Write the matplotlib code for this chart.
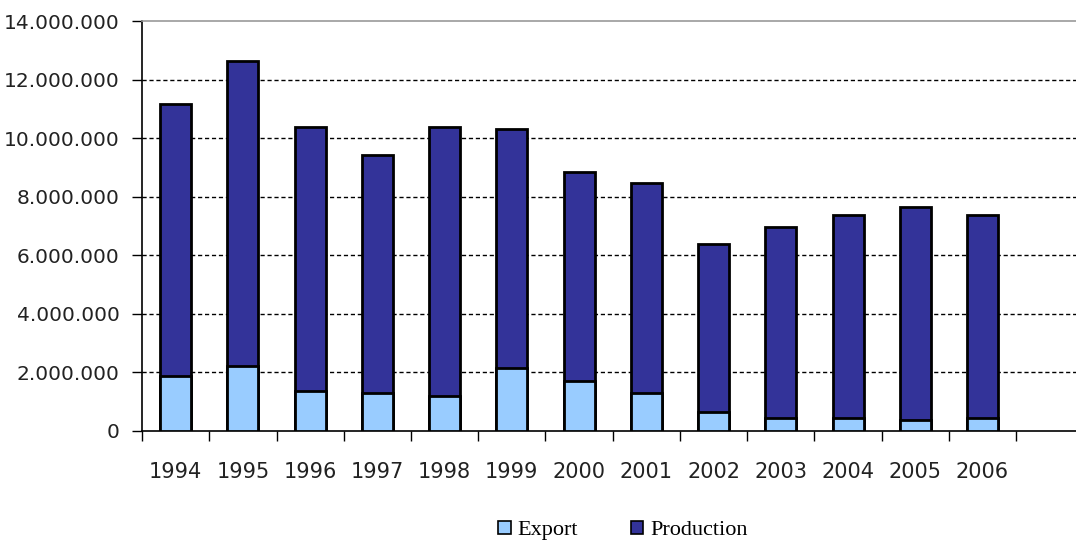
import matplotlib
matplotlib.use("Agg")
import matplotlib.pyplot as plt
from matplotlib.ticker import FuncFormatter, FixedLocator
from matplotlib.patches import Patch
import numpy as np

years = ["1994", "1995", "1996", "1997", "1998", "1999", "2000",
         "2001", "2002", "2003", "2004", "2005", "2006"]
production = [11150000, 12640000, 10390000, 9410000, 10390000, 10300000, 8830000,
              8480000, 6370000, 6970000, 7390000, 7650000, 7380000]
export = [1870000, 2210000, 1370000, 1300000, 1210000, 2140000, 1710000,
          1300000, 640000, 440000, 440000, 380000, 440000]

prod_color = "#333399"
exp_color = "#99CCFF"

fig = plt.figure(figsize=(10.76, 5.43), dpi=100)
ax = fig.add_axes([0.132, 0.2063, 0.868, 0.755])

x = np.arange(len(years))
w = 0.46
ax.bar(x, production, width=w, color=prod_color, edgecolor="black", linewidth=2.0, zorder=3)
ax.bar(x, export, width=w, color=exp_color, edgecolor="black", linewidth=2.0, zorder=4)

ax.set_xlim(-0.5, 13.39)
ax.set_ylim(0, 14000000)

ax.set_yticks(np.arange(0, 14000001, 2000000))
ax.yaxis.set_major_formatter(FuncFormatter(lambda v, p: f"{int(v):,}".replace(",", ".")))
for gy in range(2000000, 14000000, 2000000):
    ax.axhline(gy, color="black", linestyle=(0, (3, 2)), linewidth=1.0, zorder=1)

ax.set_xticks(x)
ax.set_xticklabels(years)
ax.xaxis.set_minor_locator(FixedLocator(np.arange(-0.5, 14, 1)))
ax.tick_params(axis="x", which="major", length=0, pad=22, labelsize=15)
ax.tick_params(axis="x", which="minor", length=7, width=1, color="black", direction="out")
ax.tick_params(axis="y", length=7, width=1, color="black", direction="out", pad=9, labelsize=14.5)

for lbl in ax.get_xticklabels() + ax.get_yticklabels():
    lbl.set_fontfamily("DejaVu Sans")
    lbl.set_color("#222222")

ax.spines["right"].set_visible(False)
ax.spines["top"].set_color("#999999")
ax.spines["top"].set_linewidth(1.2)
ax.spines["left"].set_color("black")
ax.spines["bottom"].set_color("black")
ax.spines["left"].set_linewidth(1.2)
ax.spines["bottom"].set_linewidth(1.2)

handles = [Patch(facecolor=exp_color, edgecolor="black", linewidth=1.2, label="Export"),
           Patch(facecolor=prod_color, edgecolor="black", linewidth=1.2, label="Production")]
fig.legend(handles=handles, loc="center", bbox_to_anchor=(0.579, 0.023), ncol=2,
           frameon=False, prop={"family": "Liberation Serif", "size": 16},
           handlelength=0.55, handleheight=0.55, handletextpad=0.3, columnspacing=2.4,
           borderaxespad=0)

fig.savefig("out.png", dpi=100)
